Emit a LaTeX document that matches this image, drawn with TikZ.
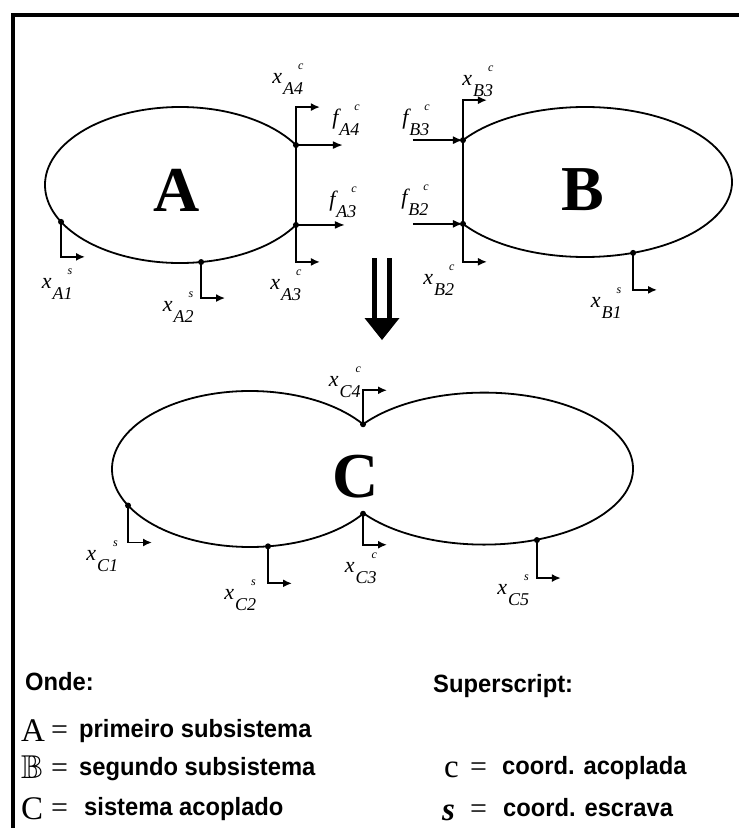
\documentclass[tikz,border=0pt]{standalone}
\usepackage{fontspec}
\usepackage{amsmath,amssymb}
\setmainfont{Liberation Serif}
\newfontfamily\legendfont[FakeStretch=0.95]{Liberation Sans}
\usetikzlibrary{arrows.meta,calc,positioning}

% coordinate name: letter, lowered subscript, small superscript over its end
\newcommand{\crd}[3]{#1\kern1pt\raisebox{-11pt}{\fontsize{18}{18}\selectfont#2}\kern-5pt\raisebox{14pt}{\fontsize{12}{12}\selectfont#3}}

\tikzset{
  outline/.style={line width=1.8pt},
  frame/.style={line width=1.8pt,-{Latex[length=9pt,width=8pt]}},
  force/.style={line width=1.8pt,-{Latex[length=10pt,width=8pt]}},
  joint/.style={circle,fill,inner sep=0pt,minimum size=6pt},
  coordlabel/.style={inner sep=0pt,font=\fontsize{22}{22}\selectfont\itshape},
  bigletter/.style={inner sep=0pt,font=\fontsize{64}{64}\selectfont\bfseries},
  legtext/.style={anchor=base west,inner sep=0pt,font=\legendfont\fontsize{25}{25}\selectfont\bfseries},
  legsym/.style={anchor=base west,inner sep=0pt,font=\fontsize{33}{33}\selectfont},
  legeq/.style={anchor=base west,inner sep=0pt,font=\fontsize{30}{30}\selectfont},
}

\begin{document}
\begin{tikzpicture}[x=1pt,y=-1pt,line cap=butt,line join=miter]
    \useasboundingbox (0,0) rectangle (739,828);
    \draw[line width=4pt] (739,15) -- (13,15) -- (13,828);

    % subsystem A
    \coordinate (cA) at (180,185);
    \coordinate (A1) at ($(cA)+(151.8:135 and 78)$);
    \coordinate (A2) at ($(cA)+(81:135 and 78)$);
    \coordinate (A3) at ($(cA)+(30.8:135 and 78)$);
    \coordinate (A4) at ($(cA)+(-30.8:135 and 78)$);
    \draw[outline] (A3) arc[start angle=30.8,end angle=329.2,x radius=135,y radius=78];
    \draw[outline] (A4) -- (A3);
    \node[bigletter] (letterA) at (177,190) {A};

    % subsystem B
    \coordinate (cB) at (585,182);
    \coordinate (B1) at ($(cB)+(70.9:147 and 75)$);
    \coordinate (B2) at ($(cB)+(146.1:147 and 75)$);
    \coordinate (B3) at ($(cB)+(-146.1:147 and 75)$);
    \draw[outline] (B3) arc[start angle=-146.1,end angle=146.1,x radius=147,y radius=75];
    \draw[outline] (B3) -- (B2);
    \node[bigletter] (letterB) at (583,190) {B};

    % coupled system C
    \coordinate (cL) at (250,469);
    \coordinate (cR) at (484,469);
    \coordinate (C1) at ($(cL)+(152.1:138 and 78)$);
    \coordinate (C2) at ($(cL)+(82.5:138 and 78)$);
    \coordinate (C3) at ($(cL)+(35:138 and 78)$);
    \coordinate (C4) at ($(cL)+(-35:138 and 78)$);
    \coordinate (C5) at ($(cR)+(69.2:149 and 76)$);
    \draw[outline] (C4) arc[start angle=-35,end angle=-325,x radius=138,y radius=78];
    \draw[outline] (C4) arc[start angle=-144.3,end angle=144.3,x radius=149,y radius=76];
    \node[bigletter] (letterC) at (356,477) {C};

    % coordinate frames
    \foreach \p/\d in {A1/35,A2/36,A3/37,B1/37,B2/38,C1/37,C2/37,C3/31,C5/38} {
        \draw[frame] (\p) -- ++(0,\d) -- ++(24,0);
    }
    \foreach \p/\d in {A4/38,B3/40,C4/34} {
        \draw[frame] (\p) -- ++(0,-\d) -- ++(24,0);
    }
    \draw[force] (A4) -- ++(47,0);
    \draw[force] (A3) -- ++(49,0);
    \draw[force] ([xshift=-50pt]B3) -- (B3);
    \draw[force] ([xshift=-50pt]B2) -- (B2);
    \foreach \p in {A1,A2,A3,A4,B1,B2,B3,C1,C2,C3,C4,C5}
        \node[joint] at (\p) {};

    % labels
    \node[coordlabel] (xA1) at (57,284) {\crd{x}{A1}{s}};
    \node[coordlabel] (xA2) at (178,307) {\crd{x}{A2}{s}};
    \node[coordlabel] (xA3) at (286,285) {\crd{x}{A3}{c}};
    \node[coordlabel] (xA4) at (288,79) {\crd{x}{A4}{c}};
    \node[coordlabel] (fA3) at (343,202) {\crd{f}{A3}{c}};
    \node[coordlabel] (fA4) at (346,120) {\crd{f}{A4}{c}};
    \node[coordlabel] (xB1) at (606,303) {\crd{x}{B1}{s}};
    \node[coordlabel] (xB2) at (439,280) {\crd{x}{B2}{c}};
    \node[coordlabel] (xB3) at (478,81) {\crd{x}{B3}{c}};
    \node[coordlabel] (fB2) at (415,200) {\crd{f}{B2}{c}};
    \node[coordlabel] (fB3) at (416,120) {\crd{f}{B3}{c}};
    \node[coordlabel] (xC1) at (102,556) {\crd{x}{C1}{s}};
    \node[coordlabel] (xC2) at (240,595) {\crd{x}{C2}{s}};
    \node[coordlabel] (xC3) at (361,568) {\crd{x}{C3}{c}};
    \node[coordlabel] (xC4) at (345,382) {\crd{x}{C4}{c}};
    \node[coordlabel] (xC5) at (513,590) {\crd{x}{C5}{s}};

    % coupling arrow
    \coordinate (downtop) at (382,258);
    \coordinate (downtip) at (382,340);
    \draw[line width=5pt] ([xshift=-7.5pt]downtop) -- ++(0,62);
    \draw[line width=5pt] ([xshift=7.5pt]downtop) -- ++(0,62);
    \fill (downtip) -- ++(-17.5,-22) -- ++(35,0) -- cycle;

    % legend
    \node[legtext] (onde) at (25,690) {Onde:};
    \node[legtext] (supers) at (433,692) {Superscript:};
    \node[legsym] (symA) at (21,741) {A};
    \node[legeq] (eqA) at (51,739) {=};
    \node[legtext] (txtA) at (79,737) {primeiro subsistema};
    \node[legsym] (symB) at (21,778) {$\mathbb{B}$};
    \node[legeq] (eqB) at (51,777) {=};
    \node[legtext] (txtB) at (79,775) {segundo subsistema};
    \node[legsym] (symC) at (21,819) {C};
    \node[legeq] (eqC) at (51,817) {=};
    \node[legtext] (txtC) at (84,815) {sistema acoplado};
    \node[legsym] (symc) at (444,777) {c};
    \node[legeq] (eqc) at (470,776) {=};
    \node[legtext] (txtc) at (502,774) {coord. acoplada};
    \node[legsym] (syms) at (442,820) {\bfseries\itshape s};
    \node[legeq] (eqs) at (470,818) {=};
    \node[legtext] (txts) at (503,816) {coord. escrava};
\end{tikzpicture}
\end{document}
